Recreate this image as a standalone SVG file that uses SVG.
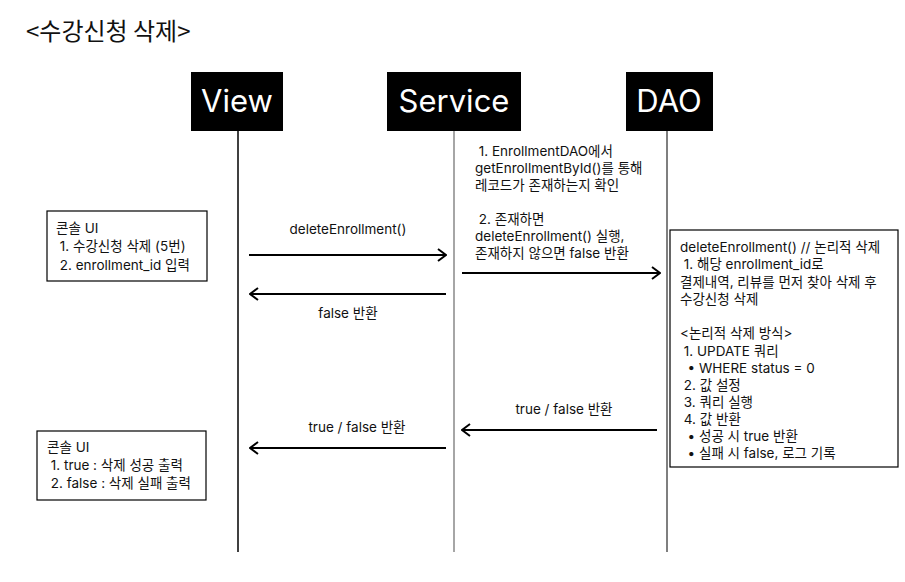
<svg xmlns="http://www.w3.org/2000/svg" width="905" height="582" viewBox="0 0 905 582">
<style>
text{font-family:Inter,"Noto Sans","Noto Sans CJK KR",sans-serif;fill:#111;font-size:13.5px;white-space:pre}
.title{font-size:24px;font-family:"Noto Sans CJK KR",Inter,sans-serif}
.hd{font-size:31px;fill:#fff;text-anchor:middle}
.hbox{fill:#000}
.note{fill:#fff;stroke:#000;stroke-width:1.2}
.life{stroke-width:1.5;fill:none}
.msg{stroke:#000;stroke-width:2;fill:none}
.lbl{text-anchor:middle}
</style>
<defs>
<marker id="ah" viewBox="0 0 10 14" refX="9" refY="7" markerWidth="10" markerHeight="14" markerUnits="userSpaceOnUse" orient="auto">
<path d="M1,1 L9,7 L1,13" fill="none" stroke="#000" stroke-width="2"/>
</marker>
</defs>
<rect width="905" height="582" fill="#fff"/>
<text class="title" x="26" y="40">&lt;수강신청 삭제&gt;</text>

<g id="view">
<rect class="hbox" x="191" y="72" width="92" height="59"/>
<text class="hd" x="237" y="112">View</text>
</g>
<g id="service">
<rect class="hbox" x="387" y="72" width="134" height="59"/>
<text class="hd" x="454" y="112">Service</text>
</g>
<g id="dao">
<rect class="hbox" x="626" y="72" width="87" height="59"/>
<text class="hd" x="669" y="112">DAO</text>
</g>

<g id="lifelines">
<line class="life" x1="238" y1="131" x2="238" y2="552" stroke="#000"/>
<line class="life" x1="454" y1="131" x2="454" y2="552" stroke="#888"/>
<line class="life" x1="667" y1="131" x2="667" y2="552" stroke="#555"/>
</g>

<g id="console-input">
<rect class="note" x="47" y="211" width="160" height="70"/>
<text x="56" y="233">콘솔 UI</text>
<text x="56" y="251"> 1. 수강신청 삭제 (5번)</text>
<text x="56" y="270"> 2. enrollment_id 입력</text>
</g>

<g id="service-note">
<text x="475" y="156"> 1. EnrollmentDAO에서</text>
<text x="475" y="173">getEnrollmentById()를 통해</text>
<text x="475" y="190">레코드가 존재하는지 확인</text>
<text x="475" y="224"> 2. 존재하면</text>
<text x="475" y="241">deleteEnrollment() 실행,</text>
<text x="475" y="258">존재하지 않으면 false 반환</text>
</g>

<g id="dao-note">
<rect class="note" x="670" y="230" width="228" height="237"/>
<text x="680" y="252">deleteEnrollment() // 논리적 삭제</text>
<text x="680" y="269"> 1. 해당 enrollment_id로</text>
<text x="680" y="287">결제내역, 리뷰를 먼저 찾아 삭제 후</text>
<text x="680" y="304">수강신청 삭제</text>
<text x="680" y="338">&lt;논리적 삭제 방식&gt;</text>
<text x="680" y="356"> 1. UPDATE 쿼리</text>
<text x="680" y="373">  • WHERE status = 0</text>
<text x="680" y="390"> 2. 값 설정</text>
<text x="680" y="407"> 3. 쿼리 실행</text>
<text x="680" y="424"> 4. 값 반환</text>
<text x="680" y="441">  • 성공 시 true 반환</text>
<text x="680" y="458">  • 실패 시 false, 로그 기록</text>
</g>

<g id="console-output">
<rect class="note" x="37" y="431" width="169" height="69"/>
<text x="47" y="452">콘솔 UI</text>
<text x="47" y="470"> 1. true : 삭제 성공 출력</text>
<text x="47" y="488"> 2. false : 삭제 실패 출력</text>
</g>

<g id="connectors">
<line class="msg" x1="249" y1="255" x2="446" y2="255" marker-end="url(#ah)"/>
<text class="lbl" x="348" y="234">deleteEnrollment()</text>
<line class="msg" x1="446" y1="294" x2="250" y2="294" marker-end="url(#ah)"/>
<text class="lbl" x="348" y="318">false 반환</text>
<line class="msg" x1="462" y1="273" x2="660" y2="273" marker-end="url(#ah)"/>
<line class="msg" x1="657" y1="430" x2="462" y2="430" marker-end="url(#ah)"/>
<text class="lbl" x="564" y="414">true / false 반환</text>
<line class="msg" x1="446" y1="448" x2="250" y2="448" marker-end="url(#ah)"/>
<text class="lbl" x="357" y="432">true / false 반환</text>
</g>
</svg>
